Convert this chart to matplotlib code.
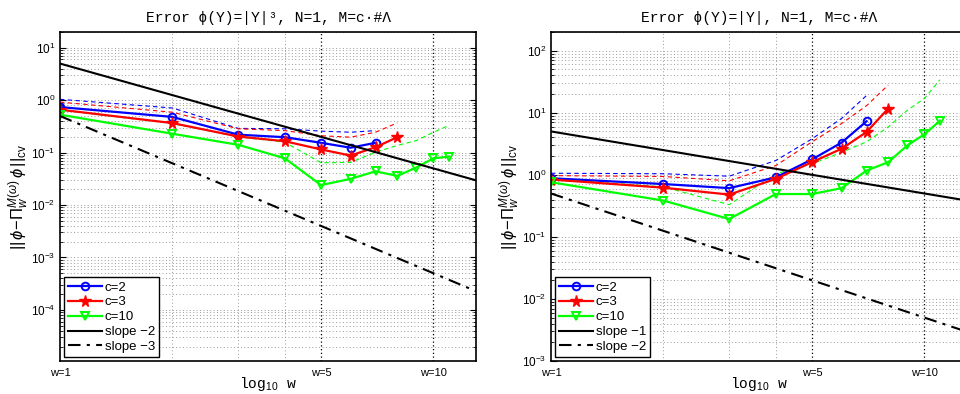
import numpy as np
import matplotlib
matplotlib.use("Agg")
from matplotlib import pyplot as plt

plt.rcParams['font.family'] = ['Liberation Sans', 'DejaVu Sans']
plt.rcParams['mathtext.fontset'] = 'custom'
plt.rcParams['mathtext.rm'] = 'Liberation Sans'
plt.rcParams['mathtext.it'] = 'Liberation Sans:italic'
plt.rcParams['mathtext.bf'] = 'Liberation Sans:bold'

# ---- data: left panel, phi(Y)=|Y|^3 ----
w_c2 = [1, 2, 3, 4, 5, 6, 7]
w_c3 = [1, 2, 3, 4, 5, 6, 7, 8]
w_c10 = [1, 2, 3, 4, 5, 6, 7, 8, 9, 10, 11]

left_c2 = [0.74, 0.48, 0.22, 0.197, 0.154, 0.124, 0.154]
left_c3 = [0.66, 0.366, 0.203, 0.165, 0.115, 0.088, 0.127, 0.197]
left_c10 = [0.53, 0.229, 0.141, 0.078, 0.024, 0.0316, 0.044, 0.036, 0.052, 0.078, 0.084]
left_c2_cv = [1.04, 0.71, 0.29, 0.285, 0.257, 0.245, 0.263]
left_c3_cv = [0.92, 0.59, 0.285, 0.263, 0.21, 0.197, 0.245, 0.37]
left_c10_cv = [0.65, 0.36, 0.2, 0.158, 0.064, 0.065, 0.102, 0.137, 0.17, 0.245, 0.33]

# ---- data: right panel, phi(Y)=|Y| ----
right_c2 = [0.88, 0.71, 0.61, 0.91, 1.77, 3.3, 7.3]
right_c3 = [0.84, 0.62, 0.48, 0.86, 1.6, 2.63, 4.9, 11.7]
right_c10 = [0.76, 0.384, 0.194, 0.49, 0.49, 0.61, 1.17, 1.6, 2.98, 4.5, 7.4]
right_c2_cv = [1.06, 1.04, 0.95, 1.7, 3.8, 8.1, 19]
right_c3_cv = [0.97, 0.94, 0.8, 1.41, 3.4, 6.7, 13, 28]
right_c10_cv = [0.86, 0.64, 0.33, 1.04, 1.5, 2.3, 3.4, 5.9, 11, 17, 34]

slope_w = np.array([1.0, 13.0])

panels = [
    dict(title='Error \u03d5(Y)=|Y|\u00b3, N=1, M=c\u00b7#\u039b',
         c2=left_c2, c3=left_c3, c10=left_c10,
         c2cv=left_c2_cv, c3cv=left_c3_cv, c10cv=left_c10_cv,
         s1=(5.0, 2), s2=(0.5, 3), ylim=(1.06e-5, 20),
         pos=[60 / 960, 33 / 394, 416 / 960, 329 / 394]),
    dict(title='Error \u03d5(Y)=|Y|, N=1, M=c\u00b7#\u039b',
         c2=right_c2, c3=right_c3, c10=right_c10,
         c2cv=right_c2_cv, c3cv=right_c3_cv, c10cv=right_c10_cv,
         s1=(5.0, 1), s2=(0.5, 2), ylim=(1e-3, 200),
         pos=[551 / 960, 33 / 394, 416 / 960, 329 / 394]),
]

blue = (0, 0, 1)
red = (1, 0, 0)
green = (0, 1, 0)
mono = ['Liberation Mono', 'DejaVu Sans Mono']

fig = plt.figure(figsize=(9.6, 3.94), dpi=100)

for p in panels:
    ax = fig.add_axes(p['pos'])
    ax.set_xscale('log')
    ax.set_yscale('log')
    ax.set_xlim(1, 13)
    ax.set_ylim(*p['ylim'])

    # grid
    ax.grid(axis='y', which='both', ls=(0, (1, 2.5)), color='#9a9a9a', lw=0.7)
    for gx in [2, 3, 4]:
        ax.axvline(gx, ls=(0, (1, 2.5)), color='#9a9a9a', lw=0.7, zorder=0.5)
    for gx in [5, 10]:
        ax.axvline(gx, ls=(0, (1, 2)), color='black', lw=0.9, zorder=0.5)

    # dashed cv estimates
    ax.plot(w_c2, p['c2cv'], color=blue, lw=0.8, dashes=(4, 3))
    ax.plot(w_c3, p['c3cv'], color=red, lw=0.8, dashes=(4, 3))
    ax.plot(w_c10, p['c10cv'], color=green, lw=0.8, dashes=(4, 3))

    ax.plot(w_c2, p['c2'], color=blue, lw=1.6, marker='o', ms=5.5,
            mfc='none', mew=1.4, label='c=2')
    ax.plot(w_c3, p['c3'], color=red, lw=1.6, marker='*', ms=8.5,
            mew=1, label='c=3')
    ax.plot(w_c10, p['c10'], color=green, lw=1.6, marker='v', ms=6,
            mfc='none', mew=1.4, label='c=10')

    k1, e1 = p['s1']
    k2, e2 = p['s2']
    ax.plot(slope_w, k1 * slope_w ** (-e1), color='black', lw=1.5,
            label='slope \u2212%d' % e1)
    ax.plot(slope_w, k2 * slope_w ** (-e2), color='black', lw=1.5,
            dashes=(6, 3, 1.5, 3), label='slope \u2212%d' % e2)

    ax.set_xticks([1, 2, 3, 4, 5, 10])
    ax.set_xticklabels(['w=1', '', '', '', 'w=5', 'w=10'])
    ax.xaxis.set_minor_locator(matplotlib.ticker.NullLocator())
    ax.tick_params(axis='both', which='both', direction='in', top=True,
                   right=True, labelsize=8.5)
    ax.tick_params(axis='x', which='major', length=0, pad=5, labelsize=8)
    ax.tick_params(axis='y', which='major', length=4)
    ax.tick_params(axis='y', which='minor', length=2)
    for s in ax.spines.values():
        s.set_linewidth(1.2)

    ax.set_title(p['title'], family=mono, fontsize=10.5, pad=7)
    ax.set_xlabel('log$_{10}$ w', family=mono, fontsize=10.5, labelpad=-2)
    ax.set_ylabel(r'$||\,\phi\!-\!\Pi_w^{M(\omega)}\,\phi\,||_{\mathrm{cv}}$',
                  fontsize=12, labelpad=0)

    leg = ax.legend(loc='lower left', fontsize=9.5, fancybox=False,
                    edgecolor='black', framealpha=1, handlelength=2.6,
                    handletextpad=0.2, borderpad=0.3, labelspacing=0.2,
                    borderaxespad=0.3)
    leg.get_frame().set_linewidth(1.0)

fig.savefig('out.png', dpi=100)
